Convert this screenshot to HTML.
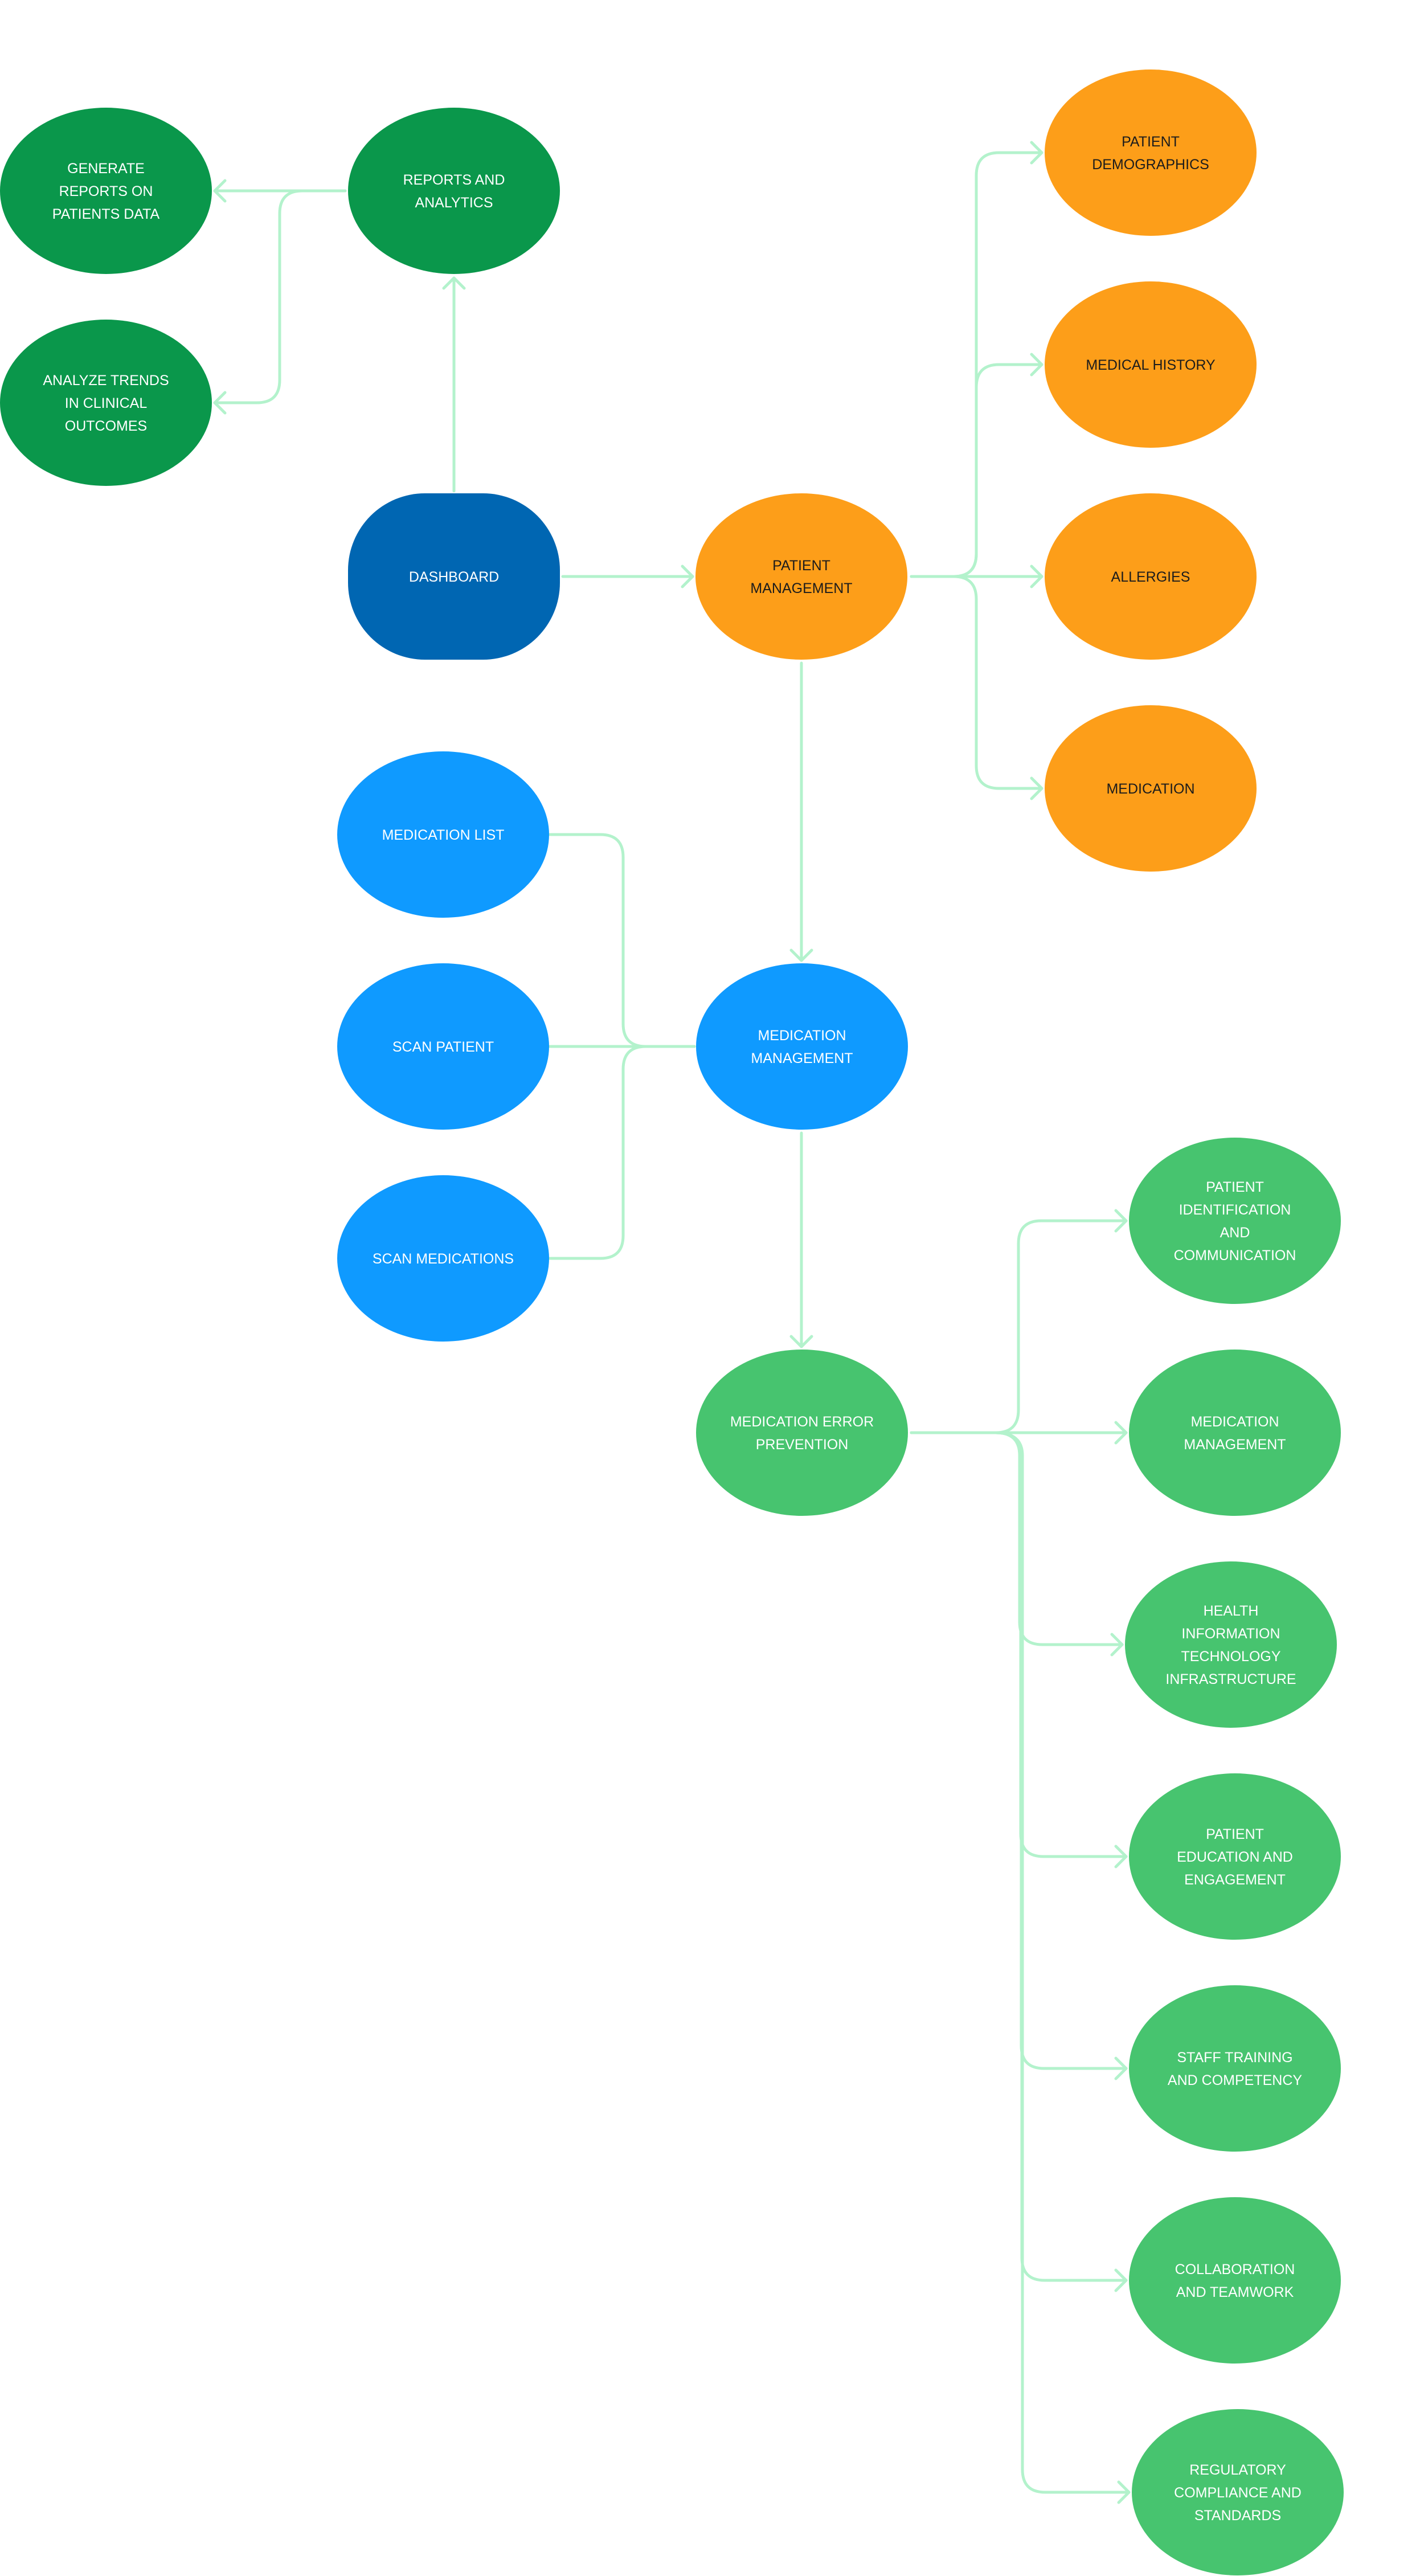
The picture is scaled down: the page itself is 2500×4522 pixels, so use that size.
<!DOCTYPE html>
<html><head><meta charset="utf-8"><style>
html,body{margin:0;padding:0;background:#fff;}
svg{display:block}
text{font-family:"Liberation Sans",Arial,sans-serif;font-size:25px;text-anchor:middle;}
.w{fill:#fff}.d{fill:#1c1c1c}
</style></head><body>
<svg width="2500" height="4522" viewBox="0 0 2500 4522" xmlns="http://www.w3.org/2000/svg">
<rect width="2500" height="4522" fill="#fff"/>
<g fill="none" stroke="#b3f2cc" stroke-width="5" stroke-linecap="round" stroke-linejoin="round">
<!-- reports -> generate / analyze -->
<path d="M606 335 H377"/><path d="M395 317 L377 335 L395 353"/>
<path d="M606 335 H531 Q491 335 491 375 V667 Q491 707 451 707 H377"/><path d="M395 689 L377 707 L395 725"/>
<!-- dashboard -> reports -->
<path d="M797 862 V488"/><path d="M779 506 L797 488 L815 506"/>
<!-- dashboard -> PM -->
<path d="M988 1012 H1216"/><path d="M1198 994 L1216 1012 L1198 1030"/>
<!-- PM -> right -->
<path d="M1600 1012 H1674 Q1714 1012 1714 972 V308 Q1714 268 1754 268 H1829"/><path d="M1811 250 L1829 268 L1811 286"/>
<path d="M1600 1012 H1674 Q1714 1012 1714 972 V680 Q1714 640 1754 640 H1829"/><path d="M1811 622 L1829 640 L1811 658"/>
<path d="M1600 1012 H1829"/><path d="M1811 994 L1829 1012 L1811 1030"/>
<path d="M1600 1012 H1674 Q1714 1012 1714 1052 V1344 Q1714 1384 1754 1384 H1829"/><path d="M1811 1366 L1829 1384 L1811 1402"/>
<!-- PM -> MM -->
<path d="M1407 1164 V1686"/><path d="M1389 1668 L1407 1686 L1425 1668"/>
<!-- MM -> left -->
<path d="M1219 1837 H596"/><path d="M614 1819 L596 1837 L614 1855"/>
<path d="M1219 1837 H1134 Q1094 1837 1094 1797 V1505 Q1094 1465 1054 1465 H596"/><path d="M614 1447 L596 1465 L614 1483"/>
<path d="M1219 1837 H1134 Q1094 1837 1094 1877 V2169 Q1094 2209 1054 2209 H596"/><path d="M614 2191 L596 2209 L614 2227"/>
<!-- MM -> MEP -->
<path d="M1407 1989 V2364"/><path d="M1389 2346 L1407 2364 L1425 2346"/>
<!-- MEP -> right -->
<path d="M1600 2515 H1748 Q1788 2515 1788 2475 V2183 Q1788 2143 1828 2143 H1977"/><path d="M1959 2125 L1977 2143 L1959 2161"/>
<path d="M1600 2515 H1977"/><path d="M1959 2497 L1977 2515 L1959 2533"/>
<path d="M1600 2515 H1748 Q1790 2515 1790 2555 V2847 Q1790 2887 1830 2887 H1970"/><path d="M1952 2869 L1970 2887 L1952 2905"/>
<path d="M1600 2515 H1748 Q1792 2515 1792 2555 V3219 Q1792 3259 1832 3259 H1977"/><path d="M1959 3241 L1977 3259 L1959 3277"/>
<path d="M1600 2515 H1748 Q1793 2515 1793 2555 V3591 Q1793 3631 1833 3631 H1977"/><path d="M1959 3613 L1977 3631 L1959 3649"/>
<path d="M1600 2515 H1748 Q1794 2515 1794 2555 V3963 Q1794 4003 1834 4003 H1977"/><path d="M1959 3985 L1977 4003 L1959 4021"/>
<path d="M1600 2515 H1748 Q1795 2515 1795 2555 V4335 Q1795 4375 1835 4375 H1982"/><path d="M1964 4357 L1982 4375 L1964 4393"/>
</g>
<!-- nodes -->
<ellipse cx="186" cy="335" rx="186" ry="146" fill="#0a974b"/>
<text class="w"><tspan x="186" y="304">GENERATE</tspan><tspan x="186" y="344">REPORTS ON</tspan><tspan x="186" y="384">PATIENTS DATA</tspan></text>
<ellipse cx="186" cy="707" rx="186" ry="146" fill="#0a974b"/>
<text class="w"><tspan x="186" y="676">ANALYZE TRENDS</tspan><tspan x="186" y="716">IN CLINICAL</tspan><tspan x="186" y="756">OUTCOMES</tspan></text>
<ellipse cx="797" cy="335" rx="186" ry="146" fill="#0a974b"/>
<text class="w"><tspan x="797" y="324">REPORTS AND</tspan><tspan x="797" y="364">ANALYTICS</tspan></text>
<rect x="611" y="866" width="372" height="292" rx="135" ry="135" fill="#0066b2"/>
<text class="w" x="797" y="1021">DASHBOARD</text>
<ellipse cx="1407" cy="1012" rx="186" ry="146" fill="#fd9e19"/>
<text class="d"><tspan x="1407" y="1001">PATIENT</tspan><tspan x="1407" y="1041">MANAGEMENT</tspan></text>
<ellipse cx="2020" cy="268" rx="186" ry="146" fill="#fd9e19"/>
<text class="d"><tspan x="2020" y="257">PATIENT</tspan><tspan x="2020" y="297">DEMOGRAPHICS</tspan></text>
<ellipse cx="2020" cy="640" rx="186" ry="146" fill="#fd9e19"/>
<text class="d" x="2020" y="649">MEDICAL HISTORY</text>
<ellipse cx="2020" cy="1012" rx="186" ry="146" fill="#fd9e19"/>
<text class="d" x="2020" y="1021">ALLERGIES</text>
<ellipse cx="2020" cy="1384" rx="186" ry="146" fill="#fd9e19"/>
<text class="d" x="2020" y="1393">MEDICATION</text>
<ellipse cx="778" cy="1465" rx="186" ry="146" fill="#0f9aff"/>
<text class="w" x="778" y="1474">MEDICATION LIST</text>
<ellipse cx="778" cy="1837" rx="186" ry="146" fill="#0f9aff"/>
<text class="w" x="778" y="1846">SCAN PATIENT</text>
<ellipse cx="778" cy="2209" rx="186" ry="146" fill="#0f9aff"/>
<text class="w" x="778" y="2218">SCAN MEDICATIONS</text>
<ellipse cx="1408" cy="1837" rx="186" ry="146" fill="#0f9aff"/>
<text class="w"><tspan x="1408" y="1826">MEDICATION</tspan><tspan x="1408" y="1866">MANAGEMENT</tspan></text>
<ellipse cx="1408" cy="2515" rx="186" ry="146" fill="#47c46f"/>
<text class="w"><tspan x="1408" y="2504">MEDICATION ERROR</tspan><tspan x="1408" y="2544">PREVENTION</tspan></text>
<ellipse cx="2168" cy="2143" rx="186" ry="146" fill="#47c46f"/>
<text class="w"><tspan x="2168" y="2092">PATIENT</tspan><tspan x="2168" y="2132">IDENTIFICATION</tspan><tspan x="2168" y="2172">AND</tspan><tspan x="2168" y="2212">COMMUNICATION</tspan></text>
<ellipse cx="2168" cy="2515" rx="186" ry="146" fill="#47c46f"/>
<text class="w"><tspan x="2168" y="2504">MEDICATION</tspan><tspan x="2168" y="2544">MANAGEMENT</tspan></text>
<ellipse cx="2161" cy="2887" rx="186" ry="146" fill="#47c46f"/>
<text class="w"><tspan x="2161" y="2836">HEALTH</tspan><tspan x="2161" y="2876">INFORMATION</tspan><tspan x="2161" y="2916">TECHNOLOGY</tspan><tspan x="2161" y="2956">INFRASTRUCTURE</tspan></text>
<ellipse cx="2168" cy="3259" rx="186" ry="146" fill="#47c46f"/>
<text class="w"><tspan x="2168" y="3228">PATIENT</tspan><tspan x="2168" y="3268">EDUCATION AND</tspan><tspan x="2168" y="3308">ENGAGEMENT</tspan></text>
<ellipse cx="2168" cy="3631" rx="186" ry="146" fill="#47c46f"/>
<text class="w"><tspan x="2168" y="3620">STAFF TRAINING</tspan><tspan x="2168" y="3660">AND COMPETENCY</tspan></text>
<ellipse cx="2168" cy="4003" rx="186" ry="146" fill="#47c46f"/>
<text class="w"><tspan x="2168" y="3992">COLLABORATION</tspan><tspan x="2168" y="4032">AND TEAMWORK</tspan></text>
<ellipse cx="2173" cy="4375" rx="186" ry="146" fill="#47c46f"/>
<text class="w"><tspan x="2173" y="4344">REGULATORY</tspan><tspan x="2173" y="4384">COMPLIANCE AND</tspan><tspan x="2173" y="4424">STANDARDS</tspan></text>
</svg>
</body></html>
